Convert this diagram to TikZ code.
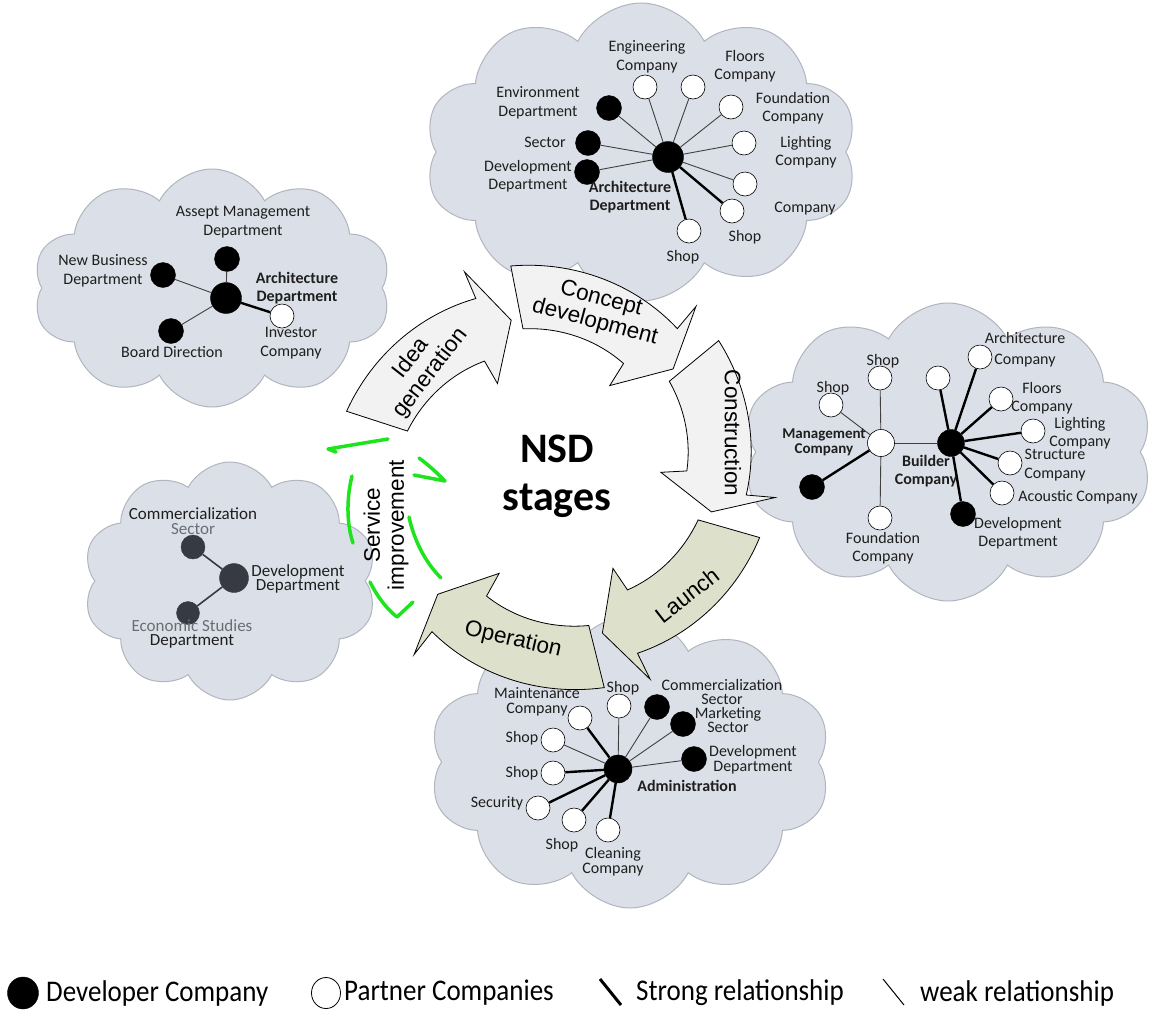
\documentclass[tikz,border=0pt]{standalone}
\usepackage{fontspec}
\setmainfont{Carlito}
\newfontfamily\arialfont{Liberation Sans}
\usetikzlibrary{shapes.symbols,shapes.geometric}

\definecolor{cloudfill}{RGB}{219,224,232}
\definecolor{cloudline}{RGB}{176,181,191}
\definecolor{lightstage}{RGB}{242,242,242}
\definecolor{olivestage}{RGB}{221,224,203}
\definecolor{markgreen}{RGB}{30,228,30}
\definecolor{darkdot}{RGB}{55,58,66}
\definecolor{softtext}{RGB}{105,110,118}
\definecolor{labeltext}{RGB}{30,30,30}

\newcommand\lblfont{\fontsize{16}{18.5}\selectfont}
\newcommand\lblbold{\fontsize{16}{18.5}\selectfont\bfseries}
\newcommand\stagefont{\arialfont\fontsize{22.5}{24}\selectfont}
\newcommand\legendfont{\fontsize{30}{32}\selectfont}

% block arc arrow of the stage cycle, centred on (552,-478)
% #1 start angle, #2 inner head angle, #3 outer head angle, #4 tip angle, #5 fill
\newcommand\cyclearrow[5]{%
  \filldraw[stageline,fill=#5]
    plot[smooth,domain=#1:#3,samples=25]
      ({552+(216-21*(\x-(#1))/((#3)-(#1)))*cos(\x)},{-478+(216-21*(\x-(#1))/((#3)-(#1)))*sin(\x)})
    -- ({552+224*cos(#3)},{-478+224*sin(#3)})
    -- ({552+163*cos(#4)},{-478+163*sin(#4)})
    -- ({552+109*cos(#2)},{-478+109*sin(#2)})
    -- plot[smooth,domain=#2:#1,samples=25]
      ({552+(135+17*(\x-(#2))/((#1)-(#2)))*cos(\x)},{-478+(135+17*(\x-(#2))/((#1)-(#2)))*sin(\x)})
    -- cycle;}

\tikzset{
  cloudbg/.style={cloud, cloud puffs=10, cloud puff arc=125, cloud ignores aspect,
    fill=cloudfill, draw=cloudline, line width=1pt, inner sep=0pt},
  dev/.style={circle, fill=black, draw=black, minimum size=25pt, inner sep=0pt},
  hubdev/.style={dev, minimum size=31pt},
  partner/.style={circle, fill=white, draw=black, line width=0.6pt, minimum size=24pt, inner sep=0pt},
  darkdev/.style={circle, fill=darkdot, draw=darkdot, minimum size=24pt, inner sep=0pt},
  weak/.style={line width=0.9pt, draw=black!75},
  strong/.style={line width=2.4pt, draw=black},
  darklink/.style={line width=1.6pt, draw=darkdot},
  lbl/.style={font=\lblfont, align=center, inner sep=1pt, text=labeltext},
  blbl/.style={lbl, font=\lblbold},
  stageline/.style={draw=black, line width=0.8pt, line join=miter},
  stagetext/.style={font=\stagefont, align=center, inner sep=0pt},
  greenmark/.style={draw=markgreen, line width=3.5pt, line cap=round, line join=round},
  legtext/.style={font=\legendfont, anchor=west, inner sep=0pt, text=black},
}

\begin{document}
\begin{tikzpicture}[x=1pt,y=1pt]
\useasboundingbox (0,0) rectangle (1154,-1013);
\fill[white] (0,0) rectangle (1154,-1013);

% ---------- clouds ----------
\node[cloudbg, minimum width=433pt, minimum height=298pt] (cloudtop) at (641,-152) {};
\node[cloudbg, minimum width=358pt, minimum height=238pt] (cloudidea) at (212,-288) {};
\node[cloudbg, minimum width=410pt, minimum height=298pt] (cloudright) at (948,-452) {};
\node[cloudbg, minimum width=294pt, minimum height=238pt] (cloudleft) at (230,-581) {};
\node[cloudbg, minimum width=402pt, minimum height=292pt] (cloudbottom) at (630,-762) {};

% ---------- stage cycle ----------
\cyclearrow{162}{120}{113}{104.5}{lightstage}
\cyclearrow{101}{58}{50}{42}{lightstage}
\cyclearrow{39.5}{3}{-5}{-12}{lightstage}
\cyclearrow{-16}{-56}{-64}{-72}{olivestage}
\cyclearrow{-76}{-119}{-128}{-134.5}{olivestage}

\node[stagetext, rotate=52] (tidea) at (421,-366) {Idea\\generation};
\node[stagetext, rotate=-15] (tconcept) at (598,-311) {Concept\\development};
\node[stagetext, rotate=-90] (tconstr) at (733,-433) {Construction};
\node[stagetext, rotate=38] (tlaunch) at (687,-595) {Launch};
\node[stagetext, rotate=-13] (toper) at (513,-640) {Operation};
\node[stagetext, rotate=90] (tservice) at (386,-525) {Service\\improvement};

% hand-drawn green marks around service improvement
\draw[greenmark] (388,-439) -- (328,-449) -- (336,-452);
\draw[greenmark] (419,-458) .. controls (430,-466) and (438,-474) .. (445,-481) -- (414,-475);
\draw[greenmark] (352,-476) .. controls (346,-500) and (347,-525) .. (353,-543);
\draw[greenmark] (409,-517) .. controls (414,-540) and (425,-562) .. (441,-578);
\draw[greenmark] (370,-582) .. controls (378,-598) and (388,-610) .. (397,-617) -- (413,-602);

\node[font=\fontsize{42}{48}\selectfont\bfseries, align=center, inner sep=0pt] (nsd) at (557,-476) {NSD\\stages};

% ---------- concept development network ----------
\node[hubdev] (thub) at (668,-157) {};
\node[dev] (tenv) at (609,-108) {};
\node[dev] (tsec) at (588,-143) {};
\node[dev] (tdev) at (587,-172) {};
\node[partner] (teng) at (645,-87) {};
\node[partner] (tflo) at (693,-87) {};
\node[partner] (tfou) at (731,-107) {};
\node[partner] (tlig) at (744,-143) {};
\node[partner] (tcom) at (745,-184) {};
\node[partner] (tshopa) at (732,-211) {};
\node[partner] (tshopb) at (689,-231) {};
\foreach \n in {tenv,tsec,tdev,teng,tflo,tfou,tlig,tcom} \draw[weak] (thub) -- (\n);
\foreach \n in {tshopa,tshopb} \draw[strong] (thub) -- (\n);
\node[lbl] (ltenv) at (538,-103) {Environment\\Department};
\node[lbl] (ltsec) at (545,-142) {Sector};
\node[lbl] (ltdev) at (528,-176) {Development\\Department};
\node[lbl] (lteng) at (647,-57) {Engineering\\Company};
\node[lbl] (ltflo) at (745,-66) {Floors\\Company};
\node[lbl] (ltfou) at (793,-108) {Foundation\\Company};
\node[lbl] (ltlig) at (806,-152) {Lighting\\Company};
\node[lbl] (ltcom) at (805,-209) {Company};
\node[lbl] (ltshopa) at (745,-237) {Shop};
\node[lbl] (ltshopb) at (683,-257) {Shop};
\node[blbl] (lthub) at (630,-197) {Architecture\\Department};

% ---------- idea generation network ----------
\node[hubdev] (ihub) at (226,-298) {};
\node[dev] (iass) at (227,-259) {};
\node[dev] (inew) at (163,-275) {};
\node[dev] (ibrd) at (171,-331) {};
\node[partner] (iinv) at (282,-316) {};
\foreach \n in {iass,inew,ibrd} \draw[weak] (ihub) -- (\n);
\draw[strong] (ihub) -- (iinv);
\node[lbl] (liass) at (243,-222) {Assept Management\\Department};
\node[lbl] (linew) at (103,-271) {New Business\\Department};
\node[lbl] (librd) at (172,-352) {Board Direction};
\node[lbl] (liinv) at (291,-343) {Investor\\Company};
\node[blbl] (lihub) at (297,-288) {Architecture\\Department};

% ---------- construction network ----------
\node[partner, minimum size=27pt] (rmgmt) at (881,-443) {};
\node[partner] (rshopa) at (880,-378) {};
\node[partner] (rshopb) at (831,-405) {};
\node[partner] (rfou) at (880,-518) {};
\node[dev] (rblk) at (812,-487) {};
\node[dev, minimum size=27pt] (rbld) at (951,-443) {};
\node[partner] (rblank) at (938,-378) {};
\node[partner] (rarc) at (980,-357) {};
\node[partner] (rflo) at (1001,-399) {};
\node[partner] (rlig) at (1033,-431) {};
\node[partner] (rstr) at (1010,-463) {};
\node[partner] (raco) at (1002,-493) {};
\node[dev] (rdev) at (963,-514) {};
\foreach \n in {rshopa,rshopb,rfou,rbld} \draw[weak] (rmgmt) -- (\n);
\draw[strong] (rmgmt) -- (rblk);
\foreach \n in {rblank,rarc,rflo,rlig,rstr,raco,rdev} \draw[strong] (rbld) -- (\n);
\node[lbl] (lrshopa) at (883,-361) {Shop};
\node[lbl] (lrshopb) at (833,-388) {Shop};
\node[blbl, font=\fontsize{15}{15}\selectfont\bfseries] (lrmgmt) at (824,-442) {Management\\Company};
\node[lbl] (lrfou) at (883,-548) {Foundation\\Company};
\node[blbl] (lrbld) at (926,-471) {Builder\\Company};
\node[lbl, font=\fontsize{16}{21}\selectfont] (lrarc) at (1025,-350) {Architecture\\Company};
\node[lbl] (lrflo) at (1042,-398) {Floors\\Company};
\node[lbl] (lrlig) at (1080,-433) {Lighting\\Company};
\node[lbl] (lrstr) at (1055,-465) {Structure\\Company};
\node[lbl] (lraco) at (1078,-497) {Acoustic Company};
\node[lbl] (lrdev) at (1018,-533) {Development\\Department};

% ---------- service improvement network ----------
\node[darkdev] (gcom) at (193,-547) {};
\node[darkdev, minimum size=29pt] (gdev) at (234,-578) {};
\node[darkdev, minimum size=23pt] (geco) at (188,-613) {};
\draw[darklink] (gdev) -- (gcom);
\draw[darklink] (gdev) -- (geco);
\node[lbl, font=\fontsize{17}{14.5}\selectfont] (lgcom) at (193,-521) {Commercialization\\\textcolor{softtext}{Sector}};
\node[lbl, font=\fontsize{17}{14.5}\selectfont] (lgdev) at (298,-579) {Development\\Department};
\node[lbl, font=\fontsize{17}{14.5}\selectfont] (lgeco) at (192,-634) {\textcolor{softtext}{Economic Studies}\\Department};

% ---------- operation network ----------
\node[hubdev, minimum size=28pt] (bhub) at (618,-769) {};
\node[partner] (bshopa) at (619,-706) {};
\node[partner] (bmnt) at (580,-718) {};
\node[partner] (bshopb) at (553,-740) {};
\node[partner] (bshopc) at (553,-773) {};
\node[partner] (bsec) at (538,-808) {};
\node[partner] (bshopd) at (574,-820) {};
\node[partner] (bcln) at (608,-830) {};
\node[dev] (bcom) at (657,-707) {};
\node[dev] (bmkt) at (683,-724) {};
\node[dev] (bdev) at (694,-759) {};
\foreach \n in {bshopa,bshopb,bcom,bmkt,bdev} \draw[weak] (bhub) -- (\n);
\foreach \n in {bmnt,bshopc,bsec,bshopd,bcln} \draw[strong] (bhub) -- (\n);
\node[lbl] (lbshopa) at (623,-688) {Shop};
\node[lbl, font=\fontsize{16}{15}\selectfont] (lbmnt) at (537,-702) {Maintenance\\Company};
\node[lbl] (lbshopb) at (522,-738) {Shop};
\node[lbl] (lbshopc) at (522,-773) {Shop};
\node[lbl] (lbsec) at (497,-803) {Security};
\node[lbl] (lbshopd) at (562,-845) {Shop};
\node[lbl, font=\fontsize{16}{15}\selectfont] (lbcln) at (613,-862) {Cleaning\\Company};
\node[lbl, font=\fontsize{16}{14.5}\selectfont] (lbcom) at (722,-692) {Commercialization\\Sector};
\node[lbl, font=\fontsize{16}{14.5}\selectfont] (lbmkt) at (728,-720) {Marketing\\Sector};
\node[lbl, font=\fontsize{16}{15}\selectfont] (lbdev) at (753,-760) {Development\\Department};
\node[blbl] (lbhub) at (687,-786) {Administration};

% ---------- legend ----------
\node[ellipse, fill=black, draw=black, minimum width=31pt, minimum height=32pt, inner sep=0pt] (legdev) at (23,-993) {};
\node[legtext] (legdevtext) at (46,-993) {\scalebox{0.9}[1]{Developer Company}};
\node[ellipse, fill=white, draw=black, line width=0.8pt, minimum width=29pt, minimum height=31pt, inner sep=0pt] (legpar) at (326,-993) {};
\node[legtext] (legpartext) at (344,-993) {\scalebox{0.9}[1]{Partner Companies}};
\coordinate (strongA) at (600,-979);
\coordinate (strongB) at (621,-1005);
\draw[line width=3pt] (strongA) -- (strongB);
\node[legtext] (legstrong) at (636,-993) {\scalebox{0.9}[1]{Strong relationship}};
\coordinate (weakA) at (883,-979);
\coordinate (weakB) at (904,-1005);
\draw[line width=1pt] (weakA) -- (weakB);
\node[legtext] (legweak) at (920,-993) {\scalebox{0.9}[1]{weak relationship}};
\end{tikzpicture}
\end{document}
